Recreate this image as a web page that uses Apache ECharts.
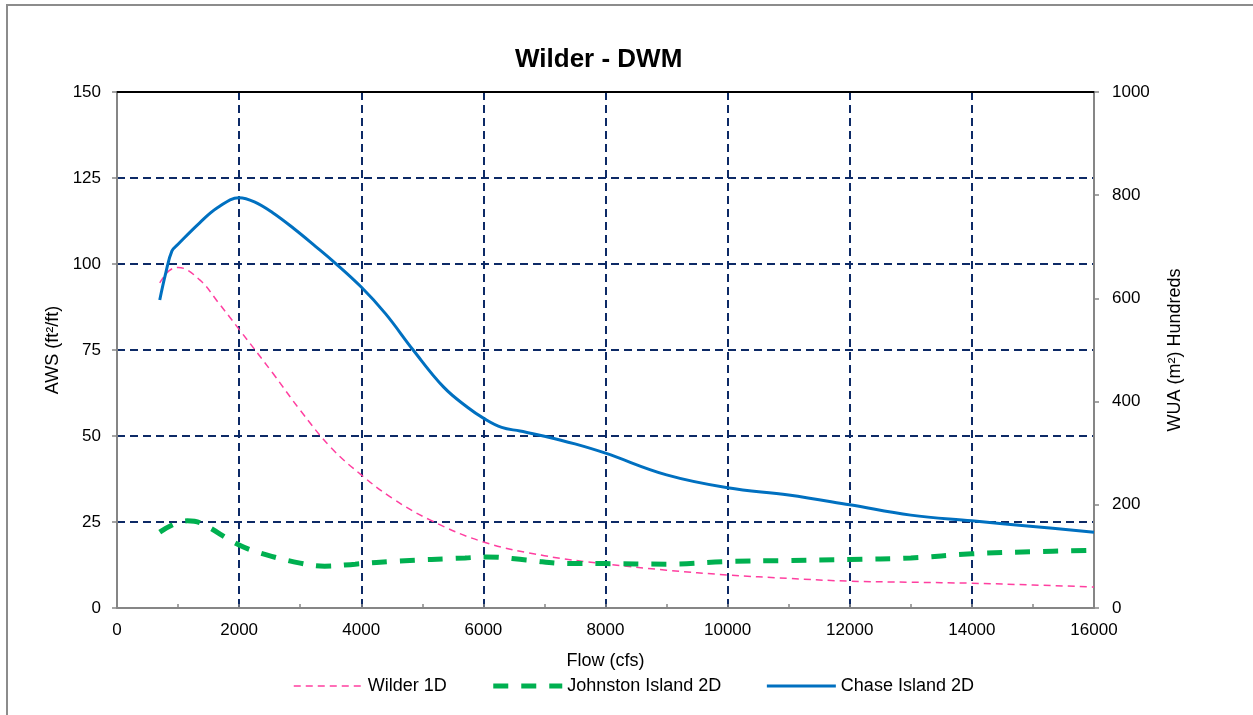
<!DOCTYPE html>
<html>
<head>
<meta charset="utf-8">
<script src="https://cdn.jsdelivr.net/npm/echarts@6/dist/echarts.min.js"></script>
<style>
  html, body { margin: 0; padding: 0; background: #fff; }
  #chart { width: 1253px; height: 715px; }
</style>
</head>
<body>
<div id="chart"></div>
<script>
// Wilder 1D - AWS (ft2/ft), left axis
const wilderFlow = [700, 850, 1000, 1360, 1650, 2000, 2550, 3000, 3500, 4000, 4500, 5125, 6000, 7000, 8000, 9000, 10000, 11000, 12000, 13000, 14000, 15000, 16000]
const wilderAws = [94.5, 98, 99, 95.3, 89, 81, 68.3, 57.5, 46.7, 38.7, 32, 25.6, 19.2, 15.2, 12.8, 11, 9.6, 8.6, 7.8, 7.5, 7.2, 6.7, 6.1]

// Johnston Island 2D - WUA (m2) hundreds, right axis
const johnstonFlow = [700, 1150, 1360, 2000, 2450, 3000, 3400, 3900, 4600, 5700, 6050, 6700, 7400, 8000, 9000, 10000, 11000, 12000, 13000, 14000, 15000, 16000]
const johnstonWua = [147, 169, 165, 122, 103, 87, 81, 85, 91, 97, 99, 93, 86, 86, 85, 90, 92, 94, 97, 105, 109, 112]

// Chase Island 2D - WUA (m2) hundreds, right axis
const chaseFlow = [700, 800, 900, 1000, 1350, 1650, 2000, 2250, 2550, 2900, 3250, 3550, 4000, 4400, 4850, 5350, 5750, 6000, 6300, 6600, 7000, 7500, 8000, 9000, 10000, 11000, 12000, 13000, 14000, 15000, 16000]
const chaseWua = [597, 650, 692, 705, 746, 776, 795, 787, 766, 735, 701, 671, 622, 570, 500, 428, 388, 368, 350, 343, 333, 318, 300, 258, 233, 219, 200, 180, 169, 158, 147]

const seriesNames = ['Wilder 1D', 'Johnston Island 2D', 'Chase Island 2D']

const pairs = (xs, ys) => xs.map((x, i) => [x, ys[i]])
const plain = v => String(v)

const font = 'Liberation Sans, Arial, sans-serif'
const gridColor = '#0d2a66'
const axisGrey = '#868686'

const chart = echarts.init(document.getElementById('chart'))

const option = {
  animation: false,
  textStyle: { fontFamily: font },
  title: {
    text: 'Wilder - DWM',
    left: 510,
    top: 42,
    textStyle: { fontSize: 26, fontWeight: 'bold', color: '#000', fontFamily: font }
  },
  graphic: [
    {
      type: 'rect',
      shape: { x: 7, y: 5, width: 1300, height: 800 },
      style: { fill: 'none', stroke: '#8c8c8c', lineWidth: 2 },
      silent: true
    }
  ],
  legend: {
    left: 293,
    top: 677,
    padding: 0,
    itemWidth: 69,
    itemHeight: 14,
    itemGap: 44,
    itemStyle: { opacity: 0 },
    lineStyle: { width: 'inherit' },
    textStyle: { fontSize: 18, color: '#000', fontFamily: font },
    data: seriesNames
  },
  grid: {
    left: 117,
    right: 159,
    top: 92,
    bottom: 107
  },
  xAxis: [
    {
      type: 'value',
      min: 0,
      max: 16000,
      interval: 2000,
      name: 'Flow (cfs)',
      nameLocation: 'middle',
      nameGap: 44,
      nameTextStyle: { fontSize: 18, color: '#000' },
      axisLine: { onZero: false, lineStyle: { color: axisGrey, width: 2 } },
      axisTick: { show: true, inside: true, length: 4, lineStyle: { color: axisGrey, width: 1.5 } },
      minorTick: { show: true, splitNumber: 2, length: 4, lineStyle: { color: axisGrey, width: 1.5 } },
      axisLabel: { fontSize: 17, color: '#000', margin: 14, formatter: plain },
      splitLine: { show: true, lineStyle: { color: gridColor, type: [8, 5], width: 2 } }
    },
    {
      type: 'value',
      position: 'top',
      min: 0,
      max: 16000,
      axisLine: { onZero: false, lineStyle: { color: '#000', width: 2 } },
      axisTick: { show: false },
      axisLabel: { show: false },
      splitLine: { show: false }
    }
  ],
  yAxis: [
    {
      type: 'value',
      min: 0,
      max: 150,
      interval: 25,
      name: 'AWS (ft²/ft)',
      nameLocation: 'middle',
      nameGap: 52,
      nameRotate: 90,
      nameTextStyle: { fontSize: 18, color: '#000' },
      axisLine: { show: true, onZero: false, lineStyle: { color: axisGrey, width: 2 } },
      axisTick: { show: true, length: 5, lineStyle: { color: axisGrey, width: 1.5 } },
      axisLabel: { fontSize: 17, color: '#000', margin: 16, formatter: plain },
      splitLine: { show: true, lineStyle: { color: gridColor, type: [8, 5], width: 2 } }
    },
    {
      type: 'value',
      position: 'right',
      min: 0,
      max: 1000,
      interval: 200,
      name: 'WUA (m²) Hundreds',
      nameLocation: 'middle',
      nameGap: 72,
      nameRotate: 90,
      nameTextStyle: { fontSize: 18, color: '#000' },
      axisLine: { show: true, onZero: false, lineStyle: { color: axisGrey, width: 2 } },
      axisTick: { show: true, length: 5, lineStyle: { color: axisGrey, width: 1.5 } },
      axisLabel: { fontSize: 17, color: '#000', margin: 18, formatter: plain },
      splitLine: { show: false }
    }
  ],
  series: [
    {
      name: seriesNames[0],
      type: 'line',
      yAxisIndex: 0,
      data: pairs(wilderFlow, wilderAws),
      smooth: 0.4,
      showSymbol: false,
      symbol: 'none',
      lineStyle: { color: '#ff3fa0', width: 1.5, type: [7, 5] },
      itemStyle: { color: '#ff3fa0' },
      z: 3
    },
    {
      name: seriesNames[1],
      type: 'line',
      yAxisIndex: 1,
      data: pairs(johnstonFlow, johnstonWua),
      smooth: 0.4,
      showSymbol: false,
      symbol: 'none',
      lineStyle: { color: '#00b050', width: 5, type: [15, 13] },
      itemStyle: { color: '#00b050' },
      z: 4
    },
    {
      name: seriesNames[2],
      type: 'line',
      yAxisIndex: 1,
      data: pairs(chaseFlow, chaseWua),
      smooth: 0.4,
      showSymbol: false,
      symbol: 'none',
      lineStyle: { color: '#0070c0', width: 3 },
      itemStyle: { color: '#0070c0' },
      z: 5
    }
  ]
}

chart.setOption(option)
</script>
</body>
</html>
